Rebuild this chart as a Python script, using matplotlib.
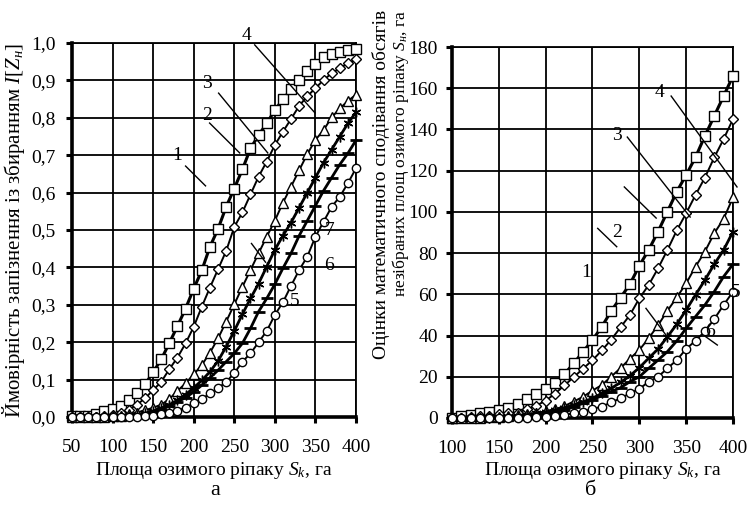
import matplotlib
matplotlib.use('Agg')
import matplotlib.pyplot as plt
from matplotlib.ticker import FuncFormatter, MultipleLocator

matplotlib.rcParams.update({
    'font.family': ['Liberation Serif', 'DejaVu Serif'],
    'font.size': 14,
    'mathtext.fontset': 'custom',
    'mathtext.rm': 'Liberation Serif',
    'mathtext.it': 'Liberation Serif:italic',
    'axes.linewidth': 1.2,
    'xtick.direction': 'out',
    'ytick.direction': 'out',
})

# (a) probability of harvest delay vs rapeseed area, step 10 ha
area_a = list(range(50, 401, 10))
prob_sq = [0.002, 0.002, 0.003, 0.008, 0.015, 0.022, 0.03, 0.045, 0.063, 0.087,
           0.12, 0.154, 0.198, 0.243, 0.29, 0.343, 0.392, 0.455, 0.503, 0.562,
           0.611, 0.662, 0.718, 0.754, 0.785, 0.821, 0.849, 0.876, 0.901, 0.926,
           0.944, 0.962, 0.971, 0.977, 0.98, 0.983]
prob_dm = [0.0, 0.0, 0.0, 0.001, 0.002, 0.005, 0.011, 0.02, 0.033, 0.05,
           0.072, 0.094, 0.128, 0.159, 0.197, 0.241, 0.295, 0.346, 0.395, 0.444,
           0.508, 0.547, 0.595, 0.643, 0.683, 0.727, 0.763, 0.797, 0.832, 0.858,
           0.879, 0.901, 0.919, 0.932, 0.946, 0.956]
prob_tr = [0.0, 0.0, 0.0, 0.0, 0.001, 0.002, 0.004, 0.007, 0.012, 0.018,
           0.025, 0.033, 0.048, 0.07, 0.09, 0.114, 0.139, 0.172, 0.21, 0.255,
           0.301, 0.348, 0.393, 0.438, 0.482, 0.525, 0.573, 0.616, 0.66, 0.703,
           0.741, 0.767, 0.801, 0.825, 0.845, 0.862]
prob_st = [0.0, 0.0, 0.0, 0.0, 0.0, 0.001, 0.002, 0.003, 0.006, 0.01,
           0.016, 0.024, 0.033, 0.045, 0.06, 0.078, 0.098, 0.121, 0.15, 0.188,
           0.23, 0.275, 0.317, 0.357, 0.402, 0.447, 0.485, 0.52, 0.56, 0.6,
           0.64, 0.68, 0.715, 0.75, 0.785, 0.815]
prob_ds = [0.0, 0.0, 0.0, 0.0, 0.0, 0.0, 0.001, 0.003, 0.005, 0.008,
           0.013, 0.02, 0.029, 0.04, 0.052, 0.067, 0.085, 0.105, 0.125, 0.148,
           0.17, 0.197, 0.237, 0.282, 0.317, 0.355, 0.398, 0.438, 0.485, 0.525,
           0.565, 0.605, 0.64, 0.675, 0.705, 0.74]
prob_ci = [0.0, 0.0, 0.0, 0.0, 0.0, 0.0, 0.0, 0.0, 0.001, 0.002,
           0.004, 0.007, 0.011, 0.017, 0.025, 0.037, 0.048, 0.063, 0.077, 0.094,
           0.117, 0.148, 0.17, 0.2, 0.23, 0.273, 0.307, 0.351, 0.393, 0.429,
           0.482, 0.522, 0.562, 0.589, 0.625, 0.665]

# (b) expected unharvested area, step 10 ha
area_b = list(range(100, 401, 10))
unh_sq = [0.2, 1.1, 1.5, 2.6, 3.1, 3.9, 5.0, 6.8, 9.1, 11.5,
          13.9, 16.8, 21.3, 26.5, 32.2, 37.8, 44.3, 51.9, 58.4, 64.9,
          73.9, 81.5, 90.4, 100.1, 109.8, 117.9, 126.5, 136.8, 146.5, 156.2,
          165.9]
unh_dm = [0.0, 0.2, 0.4, 0.8, 1.2, 1.8, 2.3, 2.6, 4.2, 6.0,
          8.4, 11.8, 15.8, 19.8, 24.0, 28.0, 32.8, 38.0, 44.0, 50.0,
          58.0, 64.5, 72.6, 81.5, 91.0, 99.3, 108.2, 116.6, 126.4, 135.3,
          145.0]
unh_tr = [0.0, 0.0, 0.1, 0.2, 0.4, 0.6, 0.9, 1.3, 1.8, 2.5,
          3.2, 4.2, 5.8, 8.0, 10.3, 13.3, 16.0, 20.1, 24.2, 28.8,
          33.0, 38.7, 45.0, 52.0, 58.5, 65.3, 73.4, 80.7, 89.6, 96.6,
          107.0]
unh_st = [0.0, 0.0, 0.0, 0.1, 0.2, 0.4, 0.7, 1.1, 1.6, 2.3,
          3.0, 3.9, 5.0, 6.3, 7.9, 9.5, 12.0, 14.4, 17.3, 20.5,
          24.4, 29.0, 33.5, 39.4, 45.5, 52.4, 59.7, 66.9, 74.6, 81.5,
          90.4]
unh_ds = [0.0, 0.0, 0.0, 0.0, 0.15, 0.3, 0.5, 0.8, 1.2, 1.7,
          2.4, 3.2, 4.2, 5.5, 7.1, 8.7, 10.9, 12.8, 14.7, 17.6,
          20.0, 24.1, 28.1, 32.2, 37.4, 43.5, 49.2, 54.8, 61.3, 68.6,
          74.6]
unh_ci = [0.0, 0.0, 0.0, 0.0, 0.0, 0.0, 0.0, 0.1, 0.2, 0.4,
          0.6, 1.0, 1.5, 2.3, 3.1, 4.4, 5.5, 7.6, 9.5, 12.0,
          14.1, 17.6, 20.0, 24.1, 28.1, 33.5, 37.5, 42.0, 48.0, 54.8,
          61.3]

# marker, size, line width per curve
STYLES = [
    dict(marker='s', ms=6.5, lw=2.2),
    dict(marker='D', ms=4.6, lw=1.4),
    dict(marker='^', ms=7.0, lw=1.4),
    dict(marker=(6, 2, 0), ms=7.0, lw=2.0),
    dict(marker='_', ms=8.0, lw=2.0),
    dict(marker='o', ms=6.0, lw=1.4),
]


def comma(fmt):
    return FuncFormatter(lambda v, pos: (fmt % v).replace('.', ','))


def style_axes(ax):
    ax.grid(True, color='black', linewidth=1.3)
    ax.set_axisbelow(True)
    for side in ('top', 'right'):
        ax.spines[side].set_linewidth(1.3)
    for side in ('left', 'bottom'):
        ax.spines[side].set_linewidth(2.6)
    ax.tick_params(axis='both', length=4, width=2.2, labelsize=14)
    ax.tick_params(axis='y', pad=8)
    ax.tick_params(axis='x', pad=12)


def draw_curves(ax, x, series):
    for y, st in zip(series, STYLES):
        marker_edge = 2.0 if st['marker'] == '_' else 1.0
        ax.plot(x, y, color='black', linewidth=st['lw'], marker=st['marker'],
                markersize=st['ms'], markerfacecolor='white',
                markeredgecolor='black', markeredgewidth=marker_edge,
                clip_on=False, zorder=3)


def leader(ax, x0, y0, x1, y1):
    ax.plot([x0, x1], [y0, y1], color='black', linewidth=1.0,
            clip_on=False, zorder=4)


fig = plt.figure(figsize=(7.52, 5.12), dpi=100)

# --- panel a ---
ax1 = fig.add_axes([0.0957, 0.1855, 0.3777, 0.7305])
draw_curves(ax1, area_a, [prob_sq, prob_dm, prob_tr, prob_st, prob_ds, prob_ci])
ax1.set_xlim(50, 400)
ax1.set_ylim(0, 1.0)
ax1.xaxis.set_major_locator(MultipleLocator(50))
ax1.yaxis.set_major_locator(MultipleLocator(0.1))
ax1.yaxis.set_major_formatter(comma('%.1f'))
style_axes(ax1)
ax1.set_xlabel('Площа озимого ріпаку $S_k$, га', fontsize=14)
ax1.xaxis.set_label_coords(0.5, -0.115)
ax1.set_ylabel('Ймовірність запізнення із збиранням $I[Z_н]$', fontsize=15,
               labelpad=3)

for txt, tx, ty in [('1', 180, 0.70), ('2', 216, 0.807), ('3', 216, 0.893),
                    ('4', 265, 1.019), ('5', 325, 0.31), ('6', 367, 0.406),
                    ('7', 368, 0.5)]:
    ax1.text(tx, ty, txt, fontsize=14, ha='center', va='center', zorder=5)
leader(ax1, 190, 0.671, 214.6, 0.618)
leader(ax1, 219.6, 0.786, 256.7, 0.706)
leader(ax1, 230.7, 0.866, 291.3, 0.706)
leader(ax1, 275.2, 0.995, 349.5, 0.813)
leader(ax1, 271.2, 0.464, 288.5, 0.414)

# --- panel b ---
ax2 = fig.add_axes([0.601, 0.1836, 0.3737, 0.7246])
draw_curves(ax2, area_b, [unh_sq, unh_dm, unh_tr, unh_st, unh_ds, unh_ci])
ax2.set_xlim(100, 400)
ax2.set_ylim(0, 180)
ax2.xaxis.set_major_locator(MultipleLocator(50))
ax2.yaxis.set_major_locator(MultipleLocator(20))
style_axes(ax2)
ax2.tick_params(axis='y', pad=6)
ax2.set_xlabel('Площа озимого ріпаку $S_k$, га', fontsize=14)
ax2.xaxis.set_label_coords(0.537, -0.113)

for txt, tx, ty in [('1', 243.6, 70.8), ('2', 276, 90.2), ('3', 276.6, 137.3),
                    ('4', 321.3, 157.7), ('5', 403, 60.7), ('6', 375, 42)]:
    ax2.text(tx, ty, txt, fontsize=14, ha='center', va='center', zorder=5)
leader(ax2, 334, 156.2, 404.3, 112.1)
leader(ax2, 287.2, 136.3, 354.3, 97.5)
leader(ax2, 284, 112.1, 318, 97)
leader(ax2, 255.6, 92, 275.9, 83.1)
leader(ax2, 307.1, 53.2, 328.4, 40.3)
leader(ax2, 371, 39.4, 383.3, 35.4)

fig.text(0.507, 0.64, 'Оцінки математичного сподівання обсягів',
         rotation=90, ha='center', va='center', fontsize=14)
fig.text(0.532, 0.70, 'незібраних площ озимого ріпаку $S_н$, га',
         rotation=90, ha='center', va='center', fontsize=12.5)

fig.text(0.286, 0.042, 'а', ha='center', va='center', fontsize=16)
fig.text(0.785, 0.042, 'б', ha='center', va='center', fontsize=16)

fig.savefig('out.png', dpi=100)
